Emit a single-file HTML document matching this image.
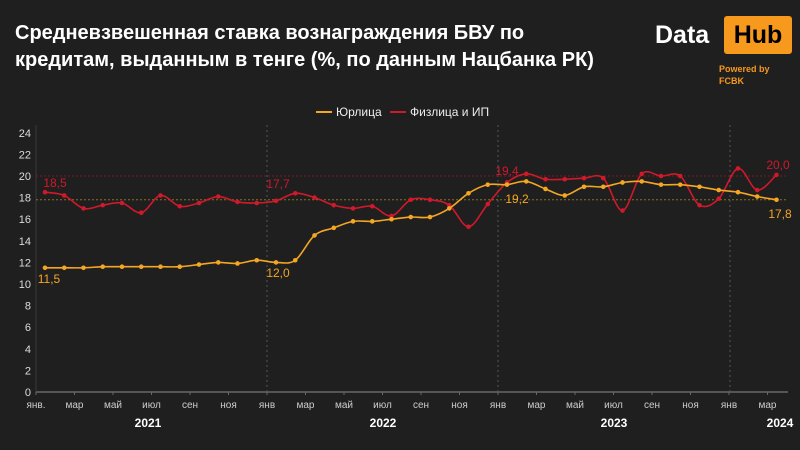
<!DOCTYPE html>
<html><head><meta charset="utf-8"><style>
html,body{margin:0;padding:0;background:#1f1f1f;}
body{width:800px;height:450px;overflow:hidden;position:relative;font-family:"Liberation Sans",sans-serif;}
.t{position:absolute;left:15px;top:20px;color:#fff;font-weight:bold;font-size:20px;line-height:27px;}
</style></head><body>
<div class="t">Средневзвешенная ставка вознаграждения БВУ по<br>кредитам, выданным в тенге (%, по данным Нацбанка РК)</div>
<div style="position:absolute;left:655px;top:20px;color:#fff;font-weight:bold;font-size:25px;line-height:30px;">Data</div>
<div style="position:absolute;left:724px;top:16px;width:68px;height:38px;background:#f7991c;border-radius:3px;color:#000;font-weight:bold;font-size:25px;line-height:38px;text-align:center;">Hub</div>
<div style="position:absolute;left:719px;top:63px;color:#f7991c;font-weight:bold;font-size:9px;line-height:12px;">Powered by<br>FCBK</div>
<svg id="s" width="800" height="450" style="position:absolute;left:0;top:0" font-family="Liberation Sans, sans-serif"></svg>
<script>
var Y=[11.5,11.5,11.5,11.6,11.6,11.6,11.6,11.6,11.8,12.0,11.9,12.2,12.0,12.2,14.5,15.2,15.8,15.8,16.0,16.2,16.2,17.0,18.4,19.2,19.2,19.5,18.8,18.2,19.0,19.0,19.4,19.5,19.2,19.2,19.0,18.7,18.5,18.1,17.8];
var R=[18.5,18.2,17.0,17.3,17.5,16.6,18.2,17.2,17.5,18.1,17.6,17.5,17.7,18.4,18.0,17.3,17.0,17.2,16.3,17.8,17.8,17.3,15.3,17.4,19.4,20.2,19.7,19.7,19.8,19.8,16.8,20.2,20.0,20.0,17.3,17.9,20.7,18.7,20.1];
function X(k){return 45+k*19.25}function V(v){return 392-10.8*v}
var h='';
// axes
h+='<line x1="36" y1="125" x2="36" y2="392" stroke="#3a3a3a"/>';
h+='<line x1="36" y1="392" x2="788" y2="392" stroke="#555" stroke-width="2"/>';
for(var v=0;v<=24;v+=2){h+='<text x="31" y="'+(V(v)+4)+'" fill="#ddd" font-size="11" text-anchor="end">'+v+'</text>';}
[267,498,730].forEach(function(x){h+='<line x1="'+x+'" y1="125" x2="'+x+'" y2="392" stroke="#555" stroke-dasharray="2,3"/>';});
h+='<line x1="36" y1="'+V(20)+'" x2="788" y2="'+V(20)+'" stroke="#7a1a22" stroke-dasharray="2,2"/>';
h+='<line x1="36" y1="'+V(17.8)+'" x2="788" y2="'+V(17.8)+'" stroke="#8a7020" stroke-dasharray="2,2"/>';
var m=['янв.','мар','май','июл','сен','ноя','янв','мар','май','июл','сен','ноя','янв','мар','май','июл','сен','ноя','янв','мар'];
m.forEach(function(t,i){var x=36+i*38.5;h+='<text x="'+x+'" y="408" fill="#ccc" font-size="10" text-anchor="middle">'+t+'</text>';h+='<line x1="'+x+'" y1="392" x2="'+x+'" y2="395" stroke="#666"/>';});
[['2021',148],['2022',383],['2023',614],['2024',780]].forEach(function(a){h+='<text x="'+a[1]+'" y="427" fill="#fff" font-size="12" font-weight="bold" text-anchor="middle">'+a[0]+'</text>';});
function path(d){var p=d.map(function(v,k){return[X(k),V(v)]});var s='M'+p[0][0]+','+p[0][1];for(var i=0;i<p.length-1;i++){var a=p[i-1]||p[i],b=p[i],c=p[i+1],e=p[i+2]||c;s+=' C'+(b[0]+(c[0]-a[0])/6)+','+(b[1]+(c[1]-a[1])/6)+' '+(c[0]-(e[0]-b[0])/6)+','+(c[1]-(e[1]-b[1])/6)+' '+c[0]+','+c[1];}return s;}
function ser(d,c){h+='<path d="'+path(d)+'" fill="none" stroke="'+c+'" stroke-width="1.6"/>';d.forEach(function(v,k){h+='<circle cx="'+X(k)+'" cy="'+V(v)+'" r="2.3" fill="'+c+'"/>';});}
ser(R,'#d0192b');ser(Y,'#f5a623');
function lab(t,x,y,c,a){h+='<text x="'+x+'" y="'+y+'" fill="'+c+'" font-size="12" text-anchor="'+(a||'middle')+'">'+t+'</text>';}
lab('18,5',55,187,'#d0192b');lab('17,7',278,188,'#d0192b');lab('19,4',507,175,'#d0192b');lab('20,0',778,169,'#d0192b');
lab('11,5',49,283,'#f5a623');lab('12,0',278,277,'#f5a623');lab('19,2',517,203,'#f5a623');lab('17,8',780,218,'#f5a623');
// legend
h+='<line x1="316" y1="112" x2="332" y2="112" stroke="#f5a623" stroke-width="2"/><text x="336" y="116" fill="#eee" font-size="12">Юрлица</text>';
h+='<line x1="390" y1="112" x2="406" y2="112" stroke="#d0192b" stroke-width="2"/><text x="410" y="116" fill="#eee" font-size="12">Физлица и ИП</text>';
document.getElementById('s').innerHTML=h;
</script>
</body></html>
